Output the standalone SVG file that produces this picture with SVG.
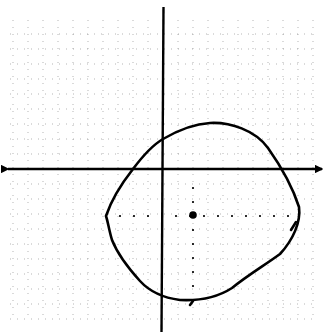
<svg xmlns="http://www.w3.org/2000/svg" width="325" height="332" viewBox="0 0 325 332">
<style>
.grid{stroke:#8a8a8a;stroke-width:0.9;stroke-dasharray:1 6;fill:none;opacity:0.7}
.axis{stroke:#000;stroke-width:2.4;fill:none}
.curve{stroke:#000;stroke-width:2.6;fill:none;stroke-linecap:round;stroke-linejoin:round}
.dots{stroke:#000;stroke-width:2.2;stroke-linecap:round;stroke-dasharray:0 14;fill:none}
</style>
<defs>
<marker id="ah" viewBox="0 0 6 6" refX="5" refY="3" markerWidth="3.5" markerHeight="3.5" orient="auto"><path d="M0,0 L6,3 L0,6 Z" fill="#000"/></marker>
</defs>
<rect width="325" height="332" fill="#fff"/>
<g id="grid">
<path class="grid" d="M13,20V320M28,20V320M43,20V320M58,20V320M73,20V320M88,20V320M103,20V320M118,20V320M133,20V320M148,20V320M178,20V320M193,20V320M208,20V320M223,20V320M238,20V320M253,20V320M268,20V320M283,20V320M298,20V320M313,20V320"/>
<path class="grid" d="M10,34H318M10,49H318M10,64H318M10,79H318M10,94H318M10,109H318M10,124H318M10,139H318M10,154H318M10,184H318M10,199H318M10,214H318M10,229H318M10,244H318M10,259H318M10,274H318M10,289H318M10,304H318M10,319H318"/>
</g>
<g id="axes">
<path class="axis" d="M163.5,7 L161.5,332"/>
<path class="axis" d="M8,169 H322" marker-start="url(#ah)" marker-end="url(#ah)"/>
</g>
<g id="guides">
<path class="dots" d="M120,216 H292"/>
<path class="dots" d="M193,188 V296"/>
</g>
<g id="center">
<circle cx="193" cy="215" r="3.8" fill="#000"/>
</g>
<g id="circle">
<path class="curve" d="M106,216 C112,198 122,183 133,169 C142,157 151,146 163,139 C175,132 192,124 210,123 C230,122 255,130 268,148 C280,165 292,185 299,207 C301,222 293,240 280,254 C265,265 248,275 232,288 C218,297 200,301 180,300 C165,298 150,292 140,281 C130,270 118,255 112,240 C109,230 108,222 106,216 Z"/>
<path class="curve" d="M296,222 L291,230" stroke-width="2"/>
<path class="curve" d="M193,301 L190,305" stroke-width="2"/>
</g>
</svg>
